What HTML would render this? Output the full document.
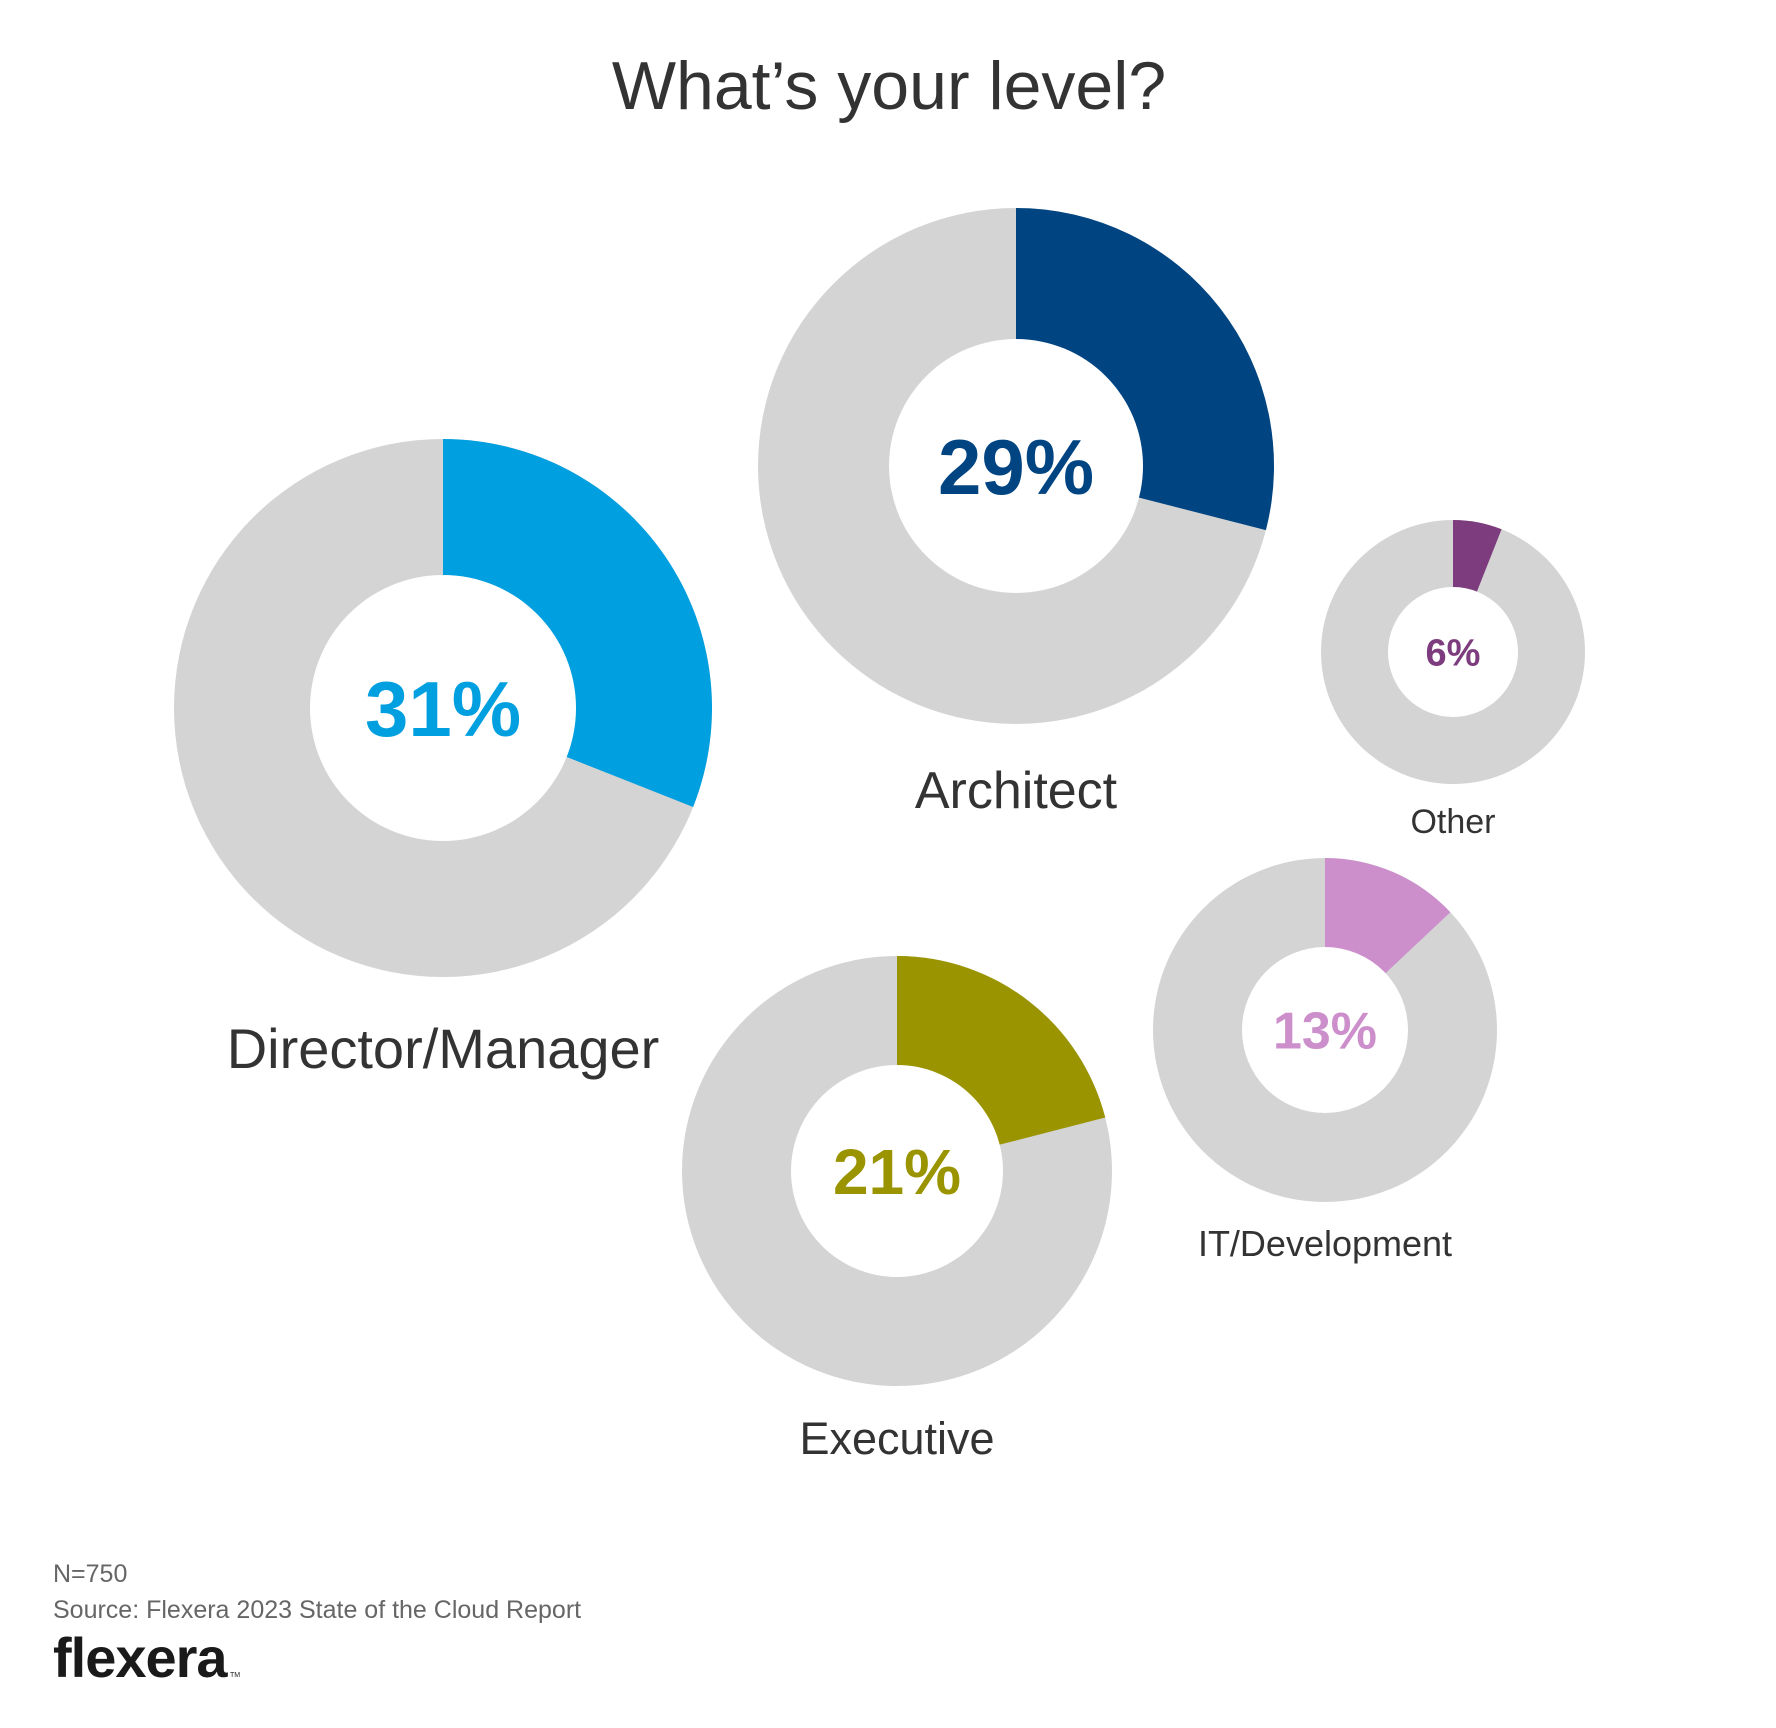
<!DOCTYPE html>
<html><head><meta charset="utf-8"><style>
html,body{margin:0;padding:0;background:#fff;}
svg{display:block;}
text{font-family:"Liberation Sans",sans-serif;}
</style></head><body>
<svg id="chart" width="1776" height="1728" viewBox="0 0 1776 1728">
<text x="889" y="109" font-size="68" fill="#333" text-anchor="middle">What’s your level?</text>
<g id="donuts"></g>
<text x="53" y="1582" font-size="25" fill="#666">N=750</text>
<text x="53" y="1618" font-size="25" fill="#666">Source: Flexera 2023 State of the Cloud Report</text>
<text x="53" y="1677" font-size="56" font-weight="bold" fill="#1a1a1a" letter-spacing="-1">flexera</text>
<text x="230" y="1677" font-size="7" fill="#1a1a1a">TM</text>
</svg>
<script>
const categories = ["Director/Manager","Architect","Other","IT/Development","Executive"];
const values = [31, 29, 6, 13, 21];
const valueLabels = ["31%","29%","6%","13%","21%"];
const colors = ["#009fdf","#004481","#7d3c7d","#cc8fcb","#999400"];
// layout (not data)
const layout = [
 {cx:443,cy:708,ro:269,ri:133,pf:78,lf:56,ly:1068},
 {cx:1016,cy:466,ro:258,ri:127,pf:78,lf:52,ly:808},
 {cx:1453,cy:652,ro:132,ri:65,pf:38,lf:34,ly:833},
 {cx:1325,cy:1030,ro:172,ri:83,pf:52,lf:36,ly:1256},
 {cx:897,cy:1171,ro:215,ri:106,pf:64,lf:45,ly:1454}
];
const NS="http://www.w3.org/2000/svg";
const g=document.getElementById('donuts');
function angle(v){return v/100*2*Math.PI;}
function pt(cx,cy,r,a){return [cx+r*Math.sin(a), cy-r*Math.cos(a)];}
categories.forEach((c,i)=>{
  const L=layout[i];
  const bg=document.createElementNS(NS,'circle');
  bg.setAttribute('cx',L.cx);bg.setAttribute('cy',L.cy);bg.setAttribute('r',L.ro);bg.setAttribute('fill','#d4d4d4');
  
  
  g.appendChild(bg);
  const a=angle(values[i]);
  const p1=pt(L.cx,L.cy,L.ro,0),p2=pt(L.cx,L.cy,L.ro,a);
  const large=a>Math.PI?1:0;
  const path=document.createElementNS(NS,'path');
  path.setAttribute('d',`M${L.cx},${L.cy} L${p1[0]},${p1[1]} A${L.ro},${L.ro} 0 ${large} 1 ${p2[0]},${p2[1]} Z`);
  path.setAttribute('fill',colors[i]);
  
  
  g.appendChild(path);
  const hole=document.createElementNS(NS,'circle');
  hole.setAttribute('cx',L.cx);hole.setAttribute('cy',L.cy);hole.setAttribute('r',L.ri);hole.setAttribute('fill','#fff');
  
  
  g.appendChild(hole);
  const t=document.createElementNS(NS,'text');
  t.setAttribute('x',L.cx);t.setAttribute('y',L.cy+L.pf*0.36);t.setAttribute('text-anchor','middle');
  t.setAttribute('font-size',L.pf);t.setAttribute('font-weight','bold');t.setAttribute('fill',colors[i]);
  t.textContent=valueLabels[i];
  
  
  g.appendChild(t);
  const lb=document.createElementNS(NS,'text');
  lb.setAttribute('x',L.cx);lb.setAttribute('y',L.ly);lb.setAttribute('text-anchor','middle');
  lb.setAttribute('font-size',L.lf);lb.setAttribute('fill','#333');
  lb.textContent=c;
  
  
  g.appendChild(lb);
});
</script>
</body></html>
